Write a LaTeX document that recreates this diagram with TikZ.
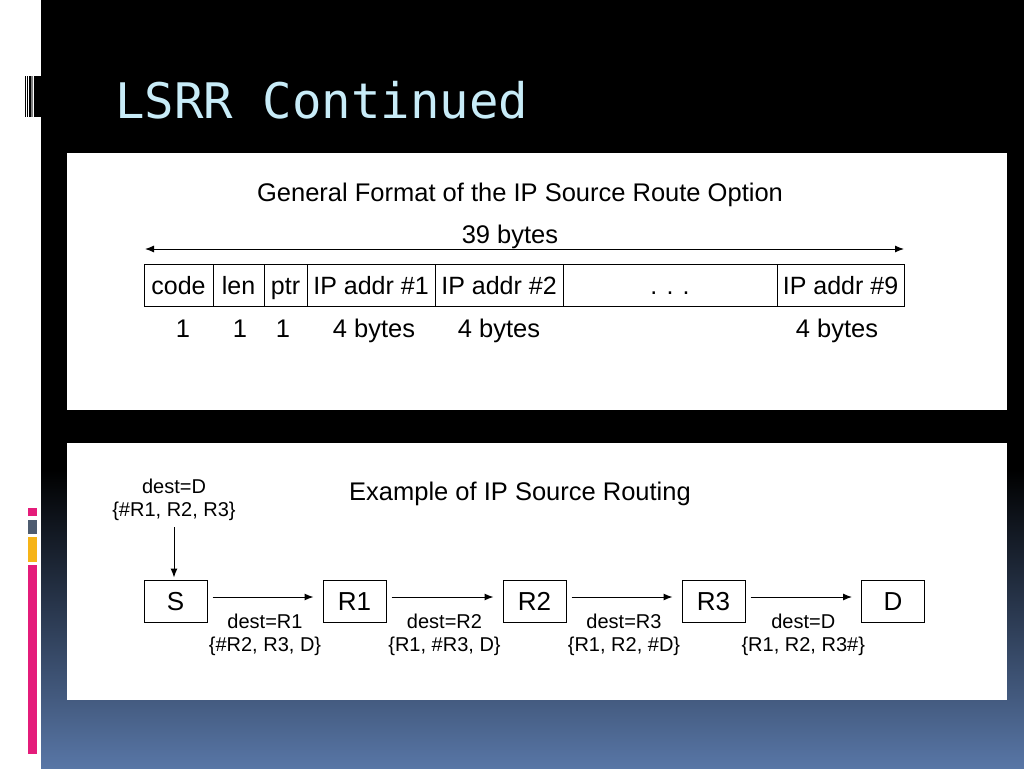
\documentclass[tikz,border=0pt]{standalone}
\usepackage{xcolor}
\usepackage{fontspec}
\setmainfont{Liberation Sans}
\newfontfamily\titlefont{DejaVu Sans Mono}
\usepackage{tikz}
\usetikzlibrary{arrows,arrows.meta}

\definecolor{slidetitle}{RGB}{200,236,248}
\definecolor{slideblue}{RGB}{88,118,166}
\definecolor{barpink}{RGB}{228,28,122}
\definecolor{bargray}{RGB}{78,92,112}
\definecolor{bargold}{RGB}{246,180,24}

\tikzset{
  field/.style={draw,line width=1pt,minimum height=42,inner sep=0pt,text height=20,text depth=3,font=\fontsize{25}{28}\selectfont},
  hop/.style={draw,line width=1pt,minimum width=63,minimum height=42,inner sep=0pt,text height=18,text depth=0,font=\fontsize{26}{28}\selectfont},
  caption/.style={anchor=base,inner sep=0pt,font=\fontsize{25.5}{28}\selectfont},
  route/.style={align=center,font=\fontsize{20}{23}\selectfont},
  hoparrow/.style={line width=1pt,-{Latex[length=9pt,width=7pt]},shorten <=5pt,shorten >=9pt}
}

\begin{document}
\begin{tikzpicture}[x=1pt,y=-1pt]
\useasboundingbox (0,0) rectangle (1024,768);
% slide background
\fill[white] (0,0) rectangle (41,768);
\fill[black] (41,0) rectangle (1024,470);
\shade[top color=black,bottom color=slideblue] (41,470) rectangle (1024,768);
\fill[white] (67,153) rectangle (1007,410);
\fill[white] (67,443) rectangle (1007,700);

% side bars
\fill[barpink] (28,508) rectangle (37,516);
\fill[bargray] (28,520) rectangle (37,534);
\fill[bargold] (28,537) rectangle (37,562);
\fill[barpink] (28,565) rectangle (37,754);
\fill (24.5,76) rectangle (25.5,117);
\fill (26.5,76) rectangle (27.8,117);
\fill (28.8,76) rectangle (30.5,117);
\fill[gray] (31,76) rectangle (33,117);
\fill (33.5,76) rectangle (41,117);

\node[anchor=base west,inner sep=0pt,text=slidetitle,font=\titlefont\fontsize{49}{50}\selectfont] (title) at (115,118) {LSRR Continued};

% option format
\node[caption] (fmt) at (520,201) {General Format of the IP Source Route Option};
\node[caption] (total) at (510,243) {39 bytes};
\coordinate (spanL) at (145,249);
\coordinate (spanR) at (904,249);
\draw[line width=1pt,{Latex[length=9pt,width=7pt]}-{Latex[length=9pt,width=7pt]}] (spanL) -- (spanR);

\node[field,minimum width=69] (code) at (178.5,285.5) {code};
\node[field,minimum width=51] (len) at (238.5,285.5) {len};
\node[field,minimum width=43] (ptr) at (285.5,285.5) {ptr};
\node[field,minimum width=128] (ipa) at (371,285.5) {IP addr \#1};
\node[field,minimum width=128] (ipb) at (499,285.5) {IP addr \#2};
\node[field,minimum width=214] (dots) at (670,285.5) {. . .};
\node[field,minimum width=127] (ipi) at (840.5,285.5) {IP addr \#9};

\node[caption] (szcode) at (183,337) {1};
\node[caption] (szlen) at (240,337) {1};
\node[caption] (szptr) at (283,337) {1};
\node[caption] (szipa) at (374,337) {4 bytes};
\node[caption] (szipb) at (499,337) {4 bytes};
\node[caption] (szipi) at (837,337) {4 bytes};

% routing example
\node[caption] (example) at (520,500) {Example of IP Source Routing};
\node[route] (srclbl) at (174,500) {dest=D\\\{\#R1, R2, R3\}};

\node[hop] (S) at (175.5,601) {S};
\node[hop] (R1) at (354.5,601) {R1};
\node[hop] (R2) at (534.5,601) {R2};
\node[hop] (R3) at (713.5,601) {R3};
\node[hop] (D) at (893,601) {D};

\draw[hoparrow,shorten <=3pt,shorten >=2pt] (srclbl.south) -- (srclbl.south |- S.north);
\draw[hoparrow] ([yshift=4pt]S.east) -- node[route,below=13pt] {dest=R1\\\{\#R2, R3, D\}} ([yshift=4pt]R1.west);
\draw[hoparrow] ([yshift=4pt]R1.east) -- node[route,below=13pt] {dest=R2\\\{R1, \#R3, D\}} ([yshift=4pt]R2.west);
\draw[hoparrow] ([yshift=4pt]R2.east) -- node[route,below=13pt] {dest=R3\\\{R1, R2, \#D\}} ([yshift=4pt]R3.west);
\draw[hoparrow] ([yshift=4pt]R3.east) -- node[route,below=13pt] {dest=D\\\{R1, R2, R3\#\}} ([yshift=4pt]D.west);

\end{tikzpicture}
\end{document}
